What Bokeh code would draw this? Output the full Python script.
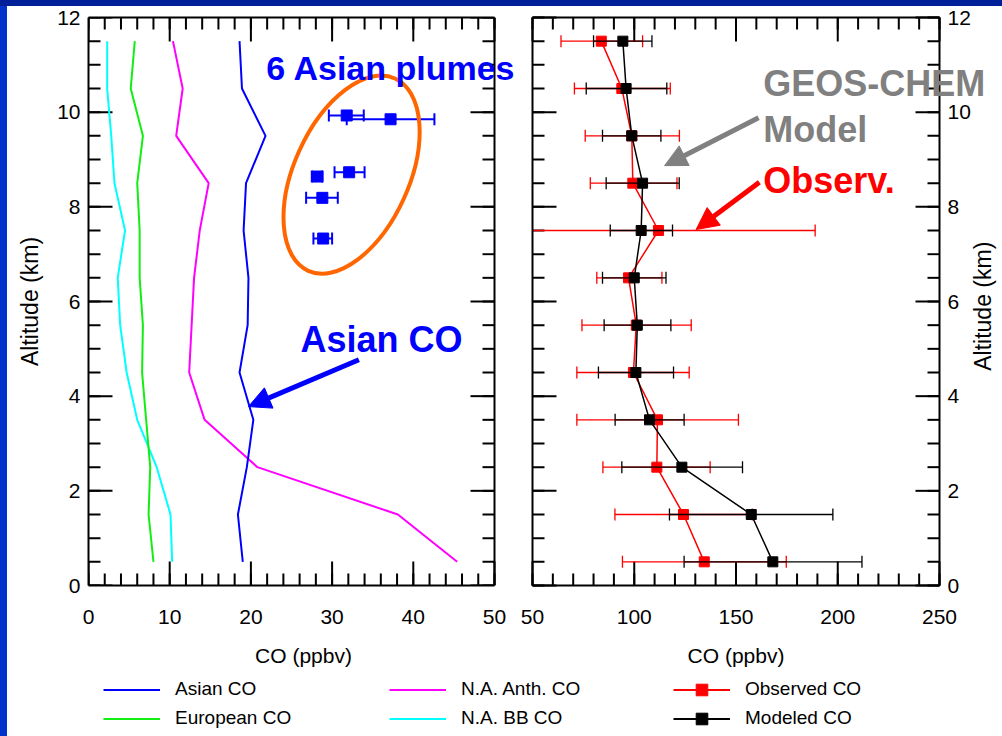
import math
from bokeh.plotting import figure
from bokeh.models import (Range1d, FixedTicker, LinearAxis, Label, Arrow, NormalHead, Span,
                          Legend, LegendItem, GlobalInlineStyleSheet)
from bokeh.layouts import row, column
from bokeh.embed import file_html
from bokeh.resources import INLINE

# ---------------- data ----------------
altitude_km = [0.5, 1.5, 2.5, 3.5, 4.5, 5.5, 6.5, 7.5, 8.5, 9.5, 10.5, 11.5]

# left panel: tagged CO tracers (ppbv)
asian_co = [19.0, 18.4, 19.5, 20.3, 18.6, 19.6, 19.7, 19.1, 19.4, 21.8, 18.9, 18.6]
european_co = [8.0, 7.4, 7.6, 7.1, 6.6, 6.7, 6.3, 6.3, 6.0, 6.7, 5.2, 5.7]
na_anth_co = [45.4, 38.1, 20.8, 14.3, 12.4, 12.7, 13.0, 13.7, 14.8, 10.8, 11.6, 10.4]
na_bb_co = [10.3, 10.1, 8.4, 6.0, 4.7, 3.9, 3.6, 4.5, 3.2, 2.8, 2.3, 2.3]

# the 6 Asian plumes
plume_alt = [9.93, 9.85, 8.73, 8.64, 8.19, 7.33]
plume_co = [31.8, 37.2, 32.1, 28.2, 28.8, 28.9]
plume_lo = [29.6, 31.8, 30.3, 27.5, 26.8, 27.7]
plume_hi = [33.9, 42.6, 34.0, 28.8, 30.7, 30.0]

# right panel: observed vs modeled CO (ppbv)
obs_co = [134.4, 124.2, 111.1, 111.4, 99.6, 101.0, 97.2, 111.9, 99.3, 98.8, 93.9, 83.8]
obs_lo = [94.2, 90.5, 84.6, 71.8, 71.8, 74.3, 81.6, 35.0, 78.4, 75.9, 70.6, 64.0]
obs_hi = [174.7, 158.0, 137.3, 151.2, 127.0, 128.0, 113.6, 188.9, 121.0, 122.2, 117.7, 104.1]
mod_co = [168.1, 157.5, 123.4, 107.5, 100.8, 101.5, 100.0, 103.4, 104.1, 98.8, 96.0, 94.4]
mod_lo = [124.5, 117.3, 93.9, 90.6, 82.4, 85.2, 84.4, 88.2, 86.2, 84.4, 76.4, 80.0]
mod_hi = [211.9, 197.6, 153.2, 124.5, 119.3, 118.0, 115.6, 118.8, 122.1, 113.1, 116.0, 108.7]

alt_ticks = [0, 2, 4, 6, 8, 10, 12]
alt_minor = [i * 0.5 for i in range(25)]
left_x_ticks = [0, 10, 20, 30, 40, 50]
left_x_minor = list(range(0, 51, 2))
right_x_ticks = [50, 100, 150, 200, 250]
right_x_minor = list(range(50, 251, 10))

FONT = "Liberation Sans"
BLUE = "#0000ff"
GREEN = "#11ee11"
MAGENTA = "#ff00ff"
CYAN = "#00ffff"
RED = "#ff0000"
GRAY = "#808080"
ORANGE = "#ff6600"

# frame geometry (px)
Y_LO, Y_HI = 0, 12
L_LO, L_HI = 0, 50          # left panel axis extent
R_LO, R_HI = 50, 250        # right panel axis extent
L_AXIS_PX, L_FRAME_PX = 406, 430
R_AXIS_PX, R_PAD_L, R_PAD_R = 407, 14, 63
FRAME_H = 568               # 0..12 km
FRAME_TOP = 11              # canvas px above the 12 km line
TOP_H = 671
MAJ, MIN = 24, 12
PX_PER_KM = FRAME_H / (Y_HI - Y_LO)


def style_axis(ax):
    ax.axis_line_width = 2
    ax.axis_line_color = "black"
    ax.major_tick_in = 0
    ax.major_tick_out = 0
    ax.minor_tick_in = 0
    ax.minor_tick_out = 0
    ax.major_tick_line_color = None
    ax.minor_tick_line_color = None
    ax.major_label_text_font = FONT
    ax.major_label_text_font_size = "21px"
    ax.major_label_text_color = "black"
    ax.axis_label_text_font = FONT
    ax.axis_label_text_font_style = "normal"
    ax.axis_label_text_color = "black"


def bare_axis(bounds=None, fixed=None):
    ax = LinearAxis(ticker=FixedTicker(ticks=[]))
    style_axis(ax)
    if bounds is not None:
        ax.bounds = bounds
    if fixed is not None:
        ax.fixed_location = fixed
    return ax


def co_axis(ticks, bounds, fixed=None):
    ax = LinearAxis(ticker=FixedTicker(ticks=ticks), bounds=bounds)
    style_axis(ax)
    if fixed is not None:
        ax.fixed_location = fixed
    ax.axis_label = "CO (ppbv)"
    ax.axis_label_text_font_size = "21px"
    ax.major_label_standoff = 24
    ax.axis_label_standoff = 17
    return ax


def ticks_y(p, xpos, angle):
    p.ray(x=[xpos] * len(alt_ticks), y=alt_ticks, length=MAJ, length_units="screen",
          angle=angle, line_color="black", line_width=2)
    p.ray(x=[xpos] * len(alt_minor), y=alt_minor, length=MIN, length_units="screen",
          angle=angle, line_color="black", line_width=2)


def ticks_x(p, major, minor, ypos, angle):
    p.ray(x=major, y=[ypos] * len(major), length=MAJ, length_units="screen",
          angle=angle, line_color="black", line_width=2)
    p.ray(x=minor, y=[ypos] * len(minor), length=MIN, length_units="screen",
          angle=angle, line_color="black", line_width=2)


def clean(p):
    p.xgrid.visible = False
    p.ygrid.visible = False
    p.outline_line_color = None
    p.background_fill_color = "white"
    p.border_fill_color = "white"


def bold_label(p, x, y, text, size, color):
    p.add_layout(Label(x=x, y=y, text=text, text_font=FONT, text_font_style="bold",
                       text_font_size=size, text_color=color, text_baseline="alphabetic"))


# ---------------- left panel ----------------
l_end = L_LO + (L_HI - L_LO) * L_FRAME_PX / L_AXIS_PX
p1 = figure(width=81 + L_FRAME_PX, height=TOP_H, x_range=Range1d(L_LO, l_end),
            y_range=Range1d(Y_LO, Y_HI), toolbar_location=None, output_backend="svg",
            min_border_left=81, min_border_right=0, min_border_top=FRAME_TOP,
            min_border_bottom=TOP_H - FRAME_TOP - FRAME_H,
            x_axis_location=None, y_axis_location=None, frame_align=False)
clean(p1)
p1.add_layout(co_axis(left_x_ticks, (L_LO, L_HI)), "below")
p1.add_layout(bare_axis((L_LO, L_HI)), "above")
alt_left = LinearAxis(ticker=FixedTicker(ticks=alt_ticks))
style_axis(alt_left)
alt_left.axis_label = "Altitude (km)"
alt_left.axis_label_text_font_size = "23px"
alt_left.major_label_standoff = 8
alt_left.axis_label_standoff = 11
p1.add_layout(alt_left, "left")
p1.add_layout(Span(location=L_HI, dimension="height", line_color="black", line_width=2))
ticks_y(p1, L_LO, 0)
ticks_y(p1, L_HI, math.pi)
ticks_x(p1, left_x_ticks, left_x_minor, Y_LO, math.pi / 2)
ticks_x(p1, left_x_ticks, left_x_minor, Y_HI, -math.pi / 2)

p1.line(na_bb_co, altitude_km, line_color=CYAN, line_width=2)
p1.line(european_co, altitude_km, line_color=GREEN, line_width=2)
p1.line(na_anth_co, altitude_km, line_color=MAGENTA, line_width=2)
p1.line(asian_co, altitude_km, line_color=BLUE, line_width=2)

# plumes with horizontal error bars
p1.segment(x0=plume_lo, y0=plume_alt, x1=plume_hi, y1=plume_alt, line_color=BLUE, line_width=2)
p1.scatter(x=plume_lo, y=plume_alt, marker="dash", angle=math.pi / 2, size=12,
           line_color=BLUE, line_width=2)
p1.scatter(x=plume_hi, y=plume_alt, marker="dash", angle=math.pi / 2, size=12,
           line_color=BLUE, line_width=2)
p1.scatter(x=plume_co, y=plume_alt, marker="square", size=11, fill_color=BLUE, line_color=BLUE)

# orange ellipse around plumes
ell_x, ell_y, ell_w, ell_h, ell_angle = 32.4, 8.68, 211, 115, 1.147
p1.ellipse(x=[ell_x], y=[ell_y], width=ell_w, height=ell_h, angle=ell_angle,
           width_units="screen", height_units="screen",
           fill_color=None, line_color=ORANGE, line_width=4)

bold_label(p1, 21.9, 10.94, "6 Asian plumes", "34px", BLUE)
bold_label(p1, 26.1, 5.20, "Asian CO", "36px", BLUE)
p1.add_layout(Arrow(x_start=33.3, y_start=4.77, x_end=19.7, y_end=3.78,
                    line_color=BLUE, line_width=5,
                    end=NormalHead(size=22, fill_color=BLUE, line_color=BLUE)))

# ---------------- right panel ----------------
r_unit = (R_HI - R_LO) / R_AXIS_PX
r_start = R_LO - R_PAD_L * r_unit
r_end = R_HI + R_PAD_R * r_unit
r_frame_w = R_PAD_L + R_AXIS_PX + R_PAD_R
r_frame_h = TOP_H - 5
y_top = Y_HI + FRAME_TOP / PX_PER_KM
y_bot = Y_HI - (r_frame_h - FRAME_TOP) / PX_PER_KM
p2 = figure(width=r_frame_w, height=TOP_H, x_range=Range1d(r_start, r_end),
            y_range=Range1d(y_bot, y_top), toolbar_location=None, output_backend="svg",
            min_border_left=0, min_border_right=0, min_border_top=0, min_border_bottom=5,
            x_axis_location=None, y_axis_location=None, frame_align=False)
clean(p2)
p2.add_layout(bare_axis((Y_LO, Y_HI), fixed=R_LO), "left")
p2.add_layout(bare_axis((R_LO, R_HI), fixed=Y_HI), "above")
p2.add_layout(co_axis(right_x_ticks, (R_LO, R_HI), fixed=Y_LO), "below")
alt_right = LinearAxis(ticker=FixedTicker(ticks=alt_ticks), fixed_location=R_HI,
                       bounds=(Y_LO, Y_HI))
style_axis(alt_right)
alt_right.major_label_standoff = 8
p2.add_layout(alt_right, "right")
p2.add_layout(Label(x=R_HI + 43 * r_unit, y=5.9, text="Altitude (km)",
                    angle=math.pi / 2, text_align="center", text_baseline="middle",
                    text_font=FONT, text_font_size="23px", text_color="black"))
ticks_y(p2, R_LO, 0)
ticks_y(p2, R_HI, math.pi)
ticks_x(p2, right_x_ticks, right_x_minor, Y_LO, math.pi / 2)
ticks_x(p2, right_x_ticks, right_x_minor, Y_HI, -math.pi / 2)


def err_bars(p, lo, hi, alt, color, lw):
    p.segment(x0=lo, y0=alt, x1=hi, y1=alt, line_color=color, line_width=lw)
    p.scatter(x=lo, y=alt, marker="dash", angle=math.pi / 2, size=12, line_color=color, line_width=lw)
    p.scatter(x=hi, y=alt, marker="dash", angle=math.pi / 2, size=12, line_color=color, line_width=lw)


# the observed lower whisker that runs past 50 ppbv is cut at the panel edge
obs_lo_shown = [max(v, R_LO) for v in obs_lo]
p2.segment(x0=obs_lo_shown, y0=altitude_km, x1=obs_hi, y1=altitude_km, line_color=RED, line_width=1.3)
p2.scatter(x=[v for v in obs_lo if v >= R_LO], y=[a for v, a in zip(obs_lo, altitude_km) if v >= R_LO],
           marker="dash", angle=math.pi / 2, size=12, line_color=RED, line_width=1.3)
p2.scatter(x=obs_hi, y=altitude_km, marker="dash", angle=math.pi / 2, size=12,
           line_color=RED, line_width=1.3)
p2.line(obs_co, altitude_km, line_color=RED, line_width=1.5)
p2.scatter(obs_co, altitude_km, marker="square", size=10, fill_color=RED, line_color=RED)
err_bars(p2, mod_lo, mod_hi, altitude_km, "black", 1.3)
p2.line(mod_co, altitude_km, line_color="black", line_width=1.5)
p2.scatter(mod_co, altitude_km, marker="square", size=10, fill_color="black", line_color="black")

bold_label(p2, 163.4, 10.61, "GEOS-CHEM", "36px", GRAY)
bold_label(p2, 163.4, 9.63, "Model", "36px", GRAY)
bold_label(p2, 163.4, 8.56, "Observ.", "36px", RED)
p2.add_layout(Arrow(x_start=161.1, y_start=9.88, x_end=114.9, y_end=8.87,
                    line_color=GRAY, line_width=5,
                    end=NormalHead(size=22, fill_color=GRAY, line_color=GRAY)))
p2.add_layout(Arrow(x_start=161.5, y_start=8.52, x_end=130.4, y_end=7.52,
                    line_color=RED, line_width=5,
                    end=NormalHead(size=22, fill_color=RED, line_color=RED)))

# ---------------- legend strip ----------------
LEG_H = 730 - TOP_H
p3 = figure(width=p1.width + p2.width, height=LEG_H, x_range=Range1d(0, 1), y_range=Range1d(0, 1),
            toolbar_location=None, output_backend="svg", min_border=0,
            x_axis_location=None, y_axis_location=None, frame_align=False)
clean(p3)

# legend proxies (their data lie outside this strip's ranges, so only the legend shows them)
r_asian = p3.line(asian_co, altitude_km, line_color=BLUE, line_width=2)
r_euro = p3.line(european_co, altitude_km, line_color=GREEN, line_width=2)
r_anth = p3.line(na_anth_co, altitude_km, line_color=MAGENTA, line_width=2)
r_bb = p3.line(na_bb_co, altitude_km, line_color=CYAN, line_width=2)
r_obs_l = p3.line(obs_co, altitude_km, line_color=RED, line_width=2)
r_obs_m = p3.scatter(obs_co, altitude_km, marker="square", size=10, fill_color=RED, line_color=RED)
r_mod_l = p3.line(mod_co, altitude_km, line_color="black", line_width=2)
r_mod_m = p3.scatter(mod_co, altitude_km, marker="square", size=10, fill_color="black", line_color="black")

legend_columns = [
    (96, [("Asian CO", [r_asian]), ("European CO", [r_euro])]),
    (382, [("N.A. Anth. CO", [r_anth]), ("N.A. BB CO", [r_bb])]),
    (666, [("Observed CO", [r_obs_l, r_obs_m]), ("Modeled CO", [r_mod_l, r_mod_m])]),
]
for lx, entries in legend_columns:
    leg = Legend(items=[LegendItem(label=lab, renderers=rs) for lab, rs in entries],
                 location=(lx, 3.5), orientation="vertical",
                 glyph_width=57, glyph_height=29, label_height=29, spacing=0,
                 padding=0, margin=0, label_standoff=15,
                 label_text_font=FONT, label_text_font_size="19px", label_text_color="black",
                 border_line_color=None, background_fill_alpha=0)
    p3.add_layout(leg)

css = ("body{padding:6px 0 0 7px !important; box-sizing:border-box;"
       " background: linear-gradient(#00209a,#00209a) 0 0/100% 6px no-repeat,"
       " linear-gradient(#0033cc,#0033cc) 0 0/7px 100% no-repeat, #ffffff;}")
layout = column(row(p1, p2), p3, stylesheets=[GlobalInlineStyleSheet(css=css)])

open("out.html", "w").write(file_html(layout, INLINE, title="CO profiles"))
